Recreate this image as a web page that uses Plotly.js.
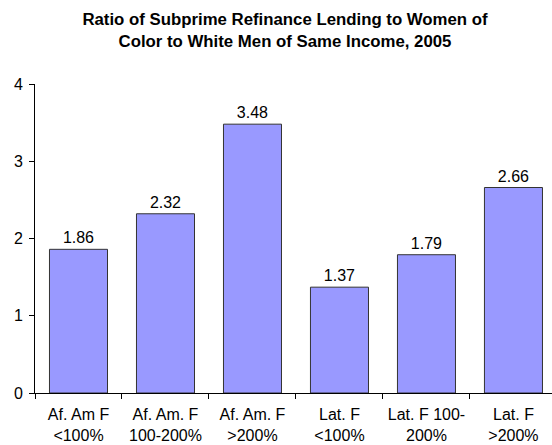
<!DOCTYPE html>
<html>
<head>
<meta charset="utf-8">
<script src="https://cdn.plot.ly/plotly-3.0.1.min.js"></script>
<style>
  body { margin: 0; padding: 0; background: #fff; }
  #chart { width: 552px; height: 445px; }
</style>
</head>
<body>
<div id="chart"></div>
<script>
var groups = ["Af. Am F<br>&lt;100%", "Af. Am. F<br>100-200%", "Af. Am. F<br>&gt;200%",
              "Lat. F<br>&lt;100%", "Lat. F 100-<br>200%", "Lat. F<br>&gt;200%"];
var ratios = [1.86, 2.32, 3.48, 1.37, 1.79, 2.66];
var yTicks = [0, 1, 2, 3, 4];

var data = [{
  type: "bar",
  x: groups,
  y: ratios,
  text: ratios.map(function (v) { return v.toFixed(2); }),
  textposition: "outside",
  textfont: {size: 16, color: "#000"},
  cliponaxis: false,
  marker: {color: "#9999FF", line: {color: "#333333", width: 1}},
  hoverinfo: "none"
}];

var layout = {
  width: 552,
  height: 445,
  // the right edge of the last category runs past the picture, so the range is cut short
  margin: {l: 35, r: 0, t: 84, b: 52},
  font: {family: "Liberation Sans, Arial, sans-serif", size: 16, color: "#000"},
  title: {
    text: "<b>Ratio of Subprime Refinance Lending to Women of<br>Color to White Men of Same Income, 2005</b>",
    font: {size: 16.8},
    xref: "container", x: 285 / 552, xanchor: "center",
    yref: "container", y: 1 - 25 / 445, yanchor: "middle"
  },
  showlegend: false,
  bargap: 0.333,
  plot_bgcolor: "#fff",
  paper_bgcolor: "#fff",
  xaxis: {
    range: [-0.5, 5.443],
    showline: true, linecolor: "#000", linewidth: 1,
    ticks: "outside", ticklen: 5, tickcolor: "#000",
    tickson: "boundaries",
    ticklabelstandoff: 7,
    showgrid: false,
    tickfont: {size: 16}
  },
  yaxis: {
    range: [0, 4],
    tickvals: yTicks,
    showline: true, linecolor: "#000", linewidth: 1,
    ticks: "outside", ticklen: 5, tickcolor: "#000",
    ticklabelstandoff: 3,
    showgrid: false, zeroline: false,
    tickfont: {size: 16}
  }
};

Plotly.newPlot("chart", data, layout, {displayModeBar: false, staticPlot: true});
</script>
</body>
</html>
